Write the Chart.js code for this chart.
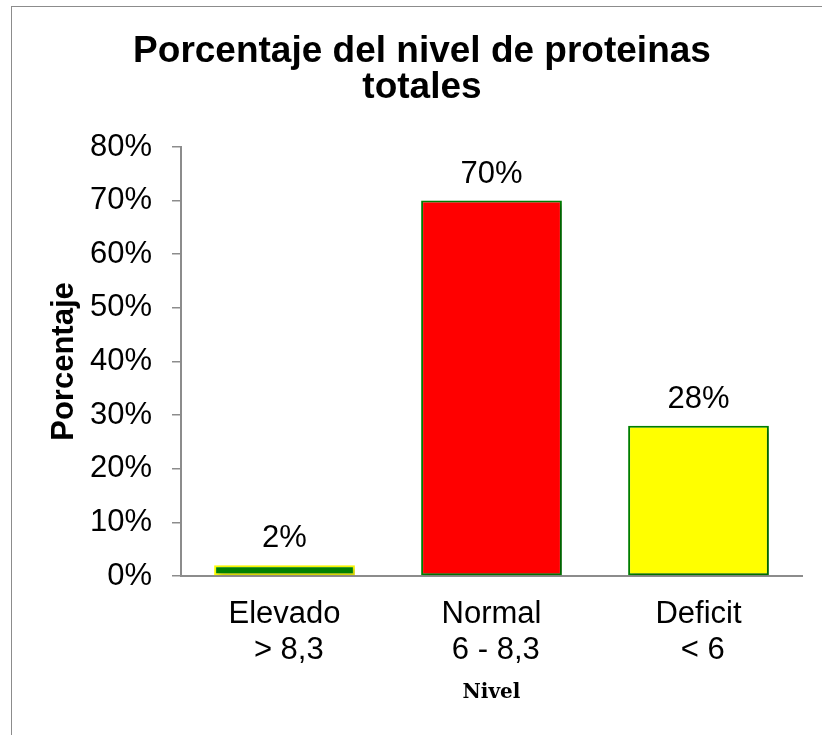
<!DOCTYPE html>
<html lang="es">
<head>
<meta charset="utf-8">
<title>Porcentaje del nivel de proteinas totales</title>
<script src="https://cdn.jsdelivr.net/npm/chart.js@4.4.1/dist/chart.umd.min.js"></script>
<style>
  html, body { margin: 0; padding: 0; background: #ffffff; overflow: hidden; }
  #wrap { position: relative; width: 822px; height: 735px; }
  #frame {
    position: absolute; left: 11px; top: 6px; width: 900px; height: 800px;
    border-left: 1.5px solid #8c8c8c; border-top: 1.5px solid #8c8c8c;
    box-sizing: border-box;
  }
  #chart { position: absolute; left: 0; top: 0; }
</style>
</head>
<body>
<div id="wrap">
  <div id="frame"></div>
  <canvas id="chart" width="822" height="735"></canvas>
</div>
<script>
// Protein level groups and share of cases (%)
const categories = [["Elevado", " > 8,3"], ["Normal", " 6 - 8,3"], ["Deficit", " < 6"]];
const percentages = [2, 70, 28];
const fillColors = ["#008000", "#ff0000", "#ffff00"];
const edgeColors = ["#ffff00", "#008000", "#008000"];
const yTicks = [0, 10, 20, 30, 40, 50, 60, 70, 80];

const SANS = "'Liberation Sans', Arial, sans-serif";
const AXIS_GRAY = "#8c8c8c";

// Soft drop shadow behind the bars
const barShadow = {
  id: "barShadow",
  beforeDatasetsDraw(chart) {
    const ctx = chart.ctx;
    ctx.save();
    ctx.shadowColor = "rgba(0,0,0,0.28)";
    ctx.shadowBlur = 5;
    ctx.shadowOffsetX = 3;
    ctx.shadowOffsetY = 2;
  },
  afterDatasetsDraw(chart) {
    chart.ctx.restore();
  }
};

// Value label above every bar
const valueLabels = {
  id: "valueLabels",
  afterDatasetsDraw(chart) {
    const ctx = chart.ctx;
    const meta = chart.getDatasetMeta(0);
    ctx.save();
    ctx.font = "31px " + SANS;
    ctx.fillStyle = "#000000";
    ctx.textAlign = "center";
    ctx.textBaseline = "alphabetic";
    meta.data.forEach((bar, i) => {
      const v = chart.data.datasets[0].data[i];
      ctx.fillText(v + "%", bar.x, bar.y - 18);
    });
    ctx.restore();
  }
};

new Chart(document.getElementById("chart"), {
  type: "bar",
  data: {
    labels: categories,
    datasets: [{
      data: percentages,
      backgroundColor: fillColors,
      borderColor: edgeColors,
      borderWidth: 2,
      borderSkipped: false,
      categoryPercentage: 1,
      barPercentage: 0.68
    }]
  },
  options: {
    responsive: false,
    animation: false,
    events: [],
    layout: { padding: { left: 42, right: 20, top: 0, bottom: 0 } },
    plugins: {
      legend: { display: false },
      tooltip: { enabled: false },
      title: {
        display: true,
        text: ["Porcentaje del nivel de proteinas", "totales"],
        color: "#000000",
        font: { family: SANS, size: 37, weight: "bold", lineHeight: 0.97 },
        padding: { top: 34, bottom: 41.2 }
      }
    },
    scales: {
      x: {
        grid: { display: false, drawTicks: false },
        border: { display: true, color: AXIS_GRAY, width: 2 },
        ticks: {
          color: "#000000",
          padding: 20,
          maxRotation: 0,
          autoSkip: false,
          font: { family: SANS, size: 31, lineHeight: 1.18 }
        },
        title: {
          display: true,
          text: "Nivel",
          color: "#000000",
          font: { family: "'DejaVu Serif', 'Liberation Serif', serif", size: 20, weight: "bold", lineHeight: 1.2 },
          padding: { top: 0, bottom: 30 }
        },
        afterFit(scale) { scale.height = 159; }
      },
      y: {
        min: 0,
        max: 80,
        afterBuildTicks(scale) { scale.ticks = yTicks.map(v => ({ value: v })); },
        grid: { display: true, drawOnChartArea: false, drawTicks: true, tickLength: 9, color: AXIS_GRAY, lineWidth: 1.5 },
        border: { display: true, color: AXIS_GRAY, width: 2 },
        ticks: {
          color: "#000000",
          padding: 20,
          font: { family: SANS, size: 31 },
          callback: v => v + "%"
        },
        title: {
          display: true,
          text: "Porcentaje",
          color: "#000000",
          font: { family: SANS, size: 31, weight: "bold", lineHeight: 1.2 },
          padding: { top: 4, bottom: 0 }
        },
        afterFit(scale) { scale.width = 139; }
      }
    }
  },
  plugins: [barShadow, valueLabels]
});
</script>
</body>
</html>
